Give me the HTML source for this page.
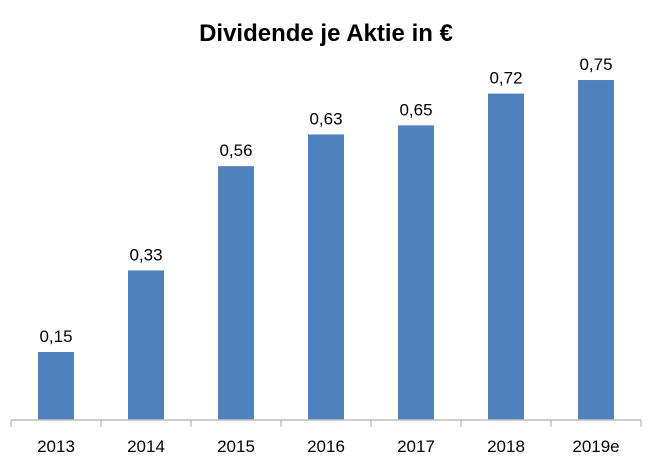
<!DOCTYPE html>
<html><head><meta charset="utf-8"><style>
html,body{margin:0;padding:0;background:#fff;width:652px;height:474px;overflow:hidden}
svg{display:block;font-family:"Liberation Sans","DejaVu Sans",sans-serif}
</style></head><body>
<svg id="chart" width="652" height="474">
<text x="326" y="41" text-anchor="middle" font-size="24" font-weight="bold" fill="#000">Dividende je Aktie in €</text>
<g id="bars"></g>
<line x1="11" y1="420" x2="641" y2="420" stroke="#bfbfbf" stroke-width="1.5"/>
<g id="ticks"></g>
</svg>
<script>
const categories = ["2013","2014","2015","2016","2017","2018","2019e"];
const values = [0.15,0.33,0.56,0.63,0.65,0.72,0.75];
const valueLabels = ["0,15","0,33","0,56","0,63","0,65","0,72","0,75"];

const NS = "http://www.w3.org/2000/svg";
const left = 11, right = 641, base = 420, pxPerUnit = 453.3;
const step = (right - left) / categories.length;
const xC = i => left + step * (i + 0.5);
const y = v => base - v * pxPerUnit;
const bars = document.getElementById('bars');
const ticks = document.getElementById('ticks');
categories.forEach((c, i) => {
  const r = document.createElementNS(NS, 'rect');
  r.setAttribute('x', xC(i) - 18);
  r.setAttribute('y', y(values[i]));
  r.setAttribute('width', 36);
  r.setAttribute('height', base - y(values[i]));
  r.setAttribute('fill', '#4f81bd');
  
  
  bars.appendChild(r);
  const t = document.createElementNS(NS, 'text');
  t.setAttribute('x', xC(i));
  t.setAttribute('y', y(values[i]) - 10);
  t.setAttribute('text-anchor', 'middle');
  t.setAttribute('font-size', '17');
  t.textContent = valueLabels[i];
  
  
  bars.appendChild(t);
  const l = document.createElementNS(NS, 'text');
  l.setAttribute('x', xC(i));
  l.setAttribute('y', 452);
  l.setAttribute('text-anchor', 'middle');
  l.setAttribute('font-size', '17');
  l.textContent = c;
  
  
  ticks.appendChild(l);
});
for (let i = 0; i <= categories.length; i++) {
  const tk = document.createElementNS(NS, 'line');
  const x = left + step * i;
  tk.setAttribute('x1', x); tk.setAttribute('x2', x);
  tk.setAttribute('y1', 420); tk.setAttribute('y2', 427);
  tk.setAttribute('stroke', '#a6a6a6');
  
  
  ticks.appendChild(tk);
}
</script>
</body></html>
